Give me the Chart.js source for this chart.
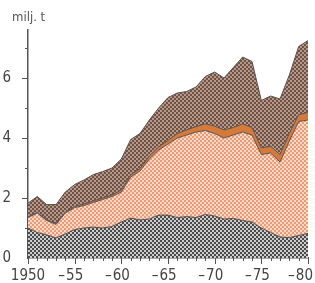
<!DOCTYPE html>
<html>
<head>
<meta charset="utf-8">
<script src="https://cdn.jsdelivr.net/npm/chart.js@4"></script>
<style>
  html, body { margin: 0; padding: 0; background: #fff; }
  #wrap { width: 315px; height: 283px; position: relative; }
</style>
</head>
<body>
<div id="wrap"><canvas id="chart" width="315" height="283"></canvas></div>
<script>
const years = [1950, 1951, 1952, 1953, 1954, 1955, 1956, 1957, 1958, 1959,
  1960, 1961, 1962, 1963, 1964, 1965, 1966, 1967, 1968, 1969,
  1970, 1971, 1972, 1973, 1974, 1975, 1976, 1977, 1978, 1979, 1980];

// layers, bottom to top (milj. t)
const greyLayer = [1.0, 0.85, 0.77, 0.67, 0.8, 0.95, 1.0, 1.03, 1.0, 1.05,
  1.2, 1.33, 1.27, 1.3, 1.43, 1.43, 1.35, 1.38, 1.35, 1.45,
  1.4, 1.3, 1.32, 1.25, 1.2, 1.0, 0.85, 0.7, 0.68, 0.75, 0.82];
const salmonLayer = [0.35, 0.65, 0.48, 0.45, 0.7, 0.73, 0.75, 0.82, 0.95, 1.0,
  1.0, 1.37, 1.63, 2.0, 2.17, 2.37, 2.65, 2.72, 2.85, 2.8,
  2.75, 2.7, 2.78, 2.95, 2.9, 2.45, 2.65, 2.5, 3.22, 3.8, 3.78];
const orangeLayer = [0.02, 0.02, 0.02, 0.03, 0.03, 0.04, 0.05, 0.05, 0.05, 0.05,
  0.07, 0.07, 0.08, 0.1, 0.1, 0.12, 0.15, 0.17, 0.18, 0.22,
  0.25, 0.27, 0.25, 0.27, 0.25, 0.22, 0.22, 0.25, 0.25, 0.23, 0.25];
const brownLayer = [0.46, 0.53, 0.51, 0.63, 0.67, 0.73, 0.8, 0.88, 0.88, 0.9,
  1.03, 1.18, 1.17, 1.2, 1.3, 1.43, 1.35, 1.28, 1.32, 1.58,
  1.8, 1.73, 2.0, 2.23, 2.2, 1.58, 1.68, 1.85, 1.95, 2.27, 2.4];

const yLabels = { 0: '0', 2: '2', 4: '4', 6: '6' };
const xLabels = { 1950: '1950', 1955: '55', 1960: '60', 1965: '65', 1970: '70', 1975: '75', 1980: '80' };
const FONT = '"DejaVu Sans Condensed", "Liberation Sans Narrow", "DejaVu Sans", sans-serif';

// checker tile, 2px cells
function dotPattern(bg, fg) {
  const c = document.createElement('canvas');
  c.width = 4; c.height = 4;
  const g = c.getContext('2d');
  g.fillStyle = bg;
  g.fillRect(0, 0, 4, 4);
  g.fillStyle = fg;
  g.fillRect(0, 0, 2, 2);
  g.fillRect(2, 2, 2, 2);
  return g.createPattern(c, 'repeat');
}

const ctx = document.getElementById('chart').getContext('2d');

function layer(data, fill, bg) {
  return {
    data: years.map((y, i) => ({ x: y, y: data[i] })),
    fill: fill,
    backgroundColor: bg,
    borderColor: '#5a5050',
    borderWidth: 1,
    pointRadius: 0,
    tension: 0
  };
}

// unit label, tick marks (long at labelled values) and year labels
const axisDecor = {
  id: 'axisDecor',
  afterDraw(chart) {
    const c = chart.ctx;
    const xs = chart.scales.x, ys = chart.scales.y;
    const bottom = ys.getPixelForValue(0), left = xs.getPixelForValue(1950);
    c.save();
    c.strokeStyle = '#555';
    c.lineWidth = 1;
    c.beginPath();
    years.forEach(y => {
      const px = Math.round(xs.getPixelForValue(y)) + 0.5;
      const len = y % 5 === 0 ? 6 : 3;
      c.moveTo(px, bottom);
      c.lineTo(px, bottom + len);
    });
    for (let v = 1; v <= 7; v++) {
      const py = Math.round(ys.getPixelForValue(v)) + 0.5;
      const len = yLabels[v] !== undefined ? 6 : 3;
      c.moveTo(left - len, py);
      c.lineTo(left, py);
    }
    c.stroke();

    c.fillStyle = '#444';
    c.font = '15px ' + FONT;
    c.textBaseline = 'alphabetic';
    Object.keys(xLabels).forEach(k => {
      const px = xs.getPixelForValue(+k);
      const txt = xLabels[k];
      const w = c.measureText(txt).width;
      let cx = Math.min(px, 313 - w / 2);
      c.textAlign = 'center';
      c.fillText(txt, cx, 280);
      if (+k !== 1950) {
        c.textAlign = 'right';
        c.fillText('\u2013', cx - w / 2 - 1, 280);
      }
    });

    c.font = '13px ' + FONT;
    c.fillStyle = '#555';
    c.textAlign = 'left';
    c.fillText('milj. t', 12, 21);
    c.restore();
  }
};

new Chart(ctx, {
  type: 'line',
  data: {
    datasets: [
      layer(greyLayer, 'origin', dotPattern('#cccccc', '#4a4a4a')),
      layer(salmonLayer, '-1', dotPattern('#fcd9c3', '#e99a7a')),
      layer(orangeLayer, '-1', '#d67a3a'),
      layer(brownLayer, '-1', dotPattern('#b69888', '#6e5246'))
    ]
  },
  options: {
    responsive: false,
    animation: false,
    layout: { padding: { left: 0, right: 7, top: 30, bottom: 0 } },
    plugins: { legend: { display: false }, tooltip: { enabled: false } },
    scales: {
      x: {
        type: 'linear',
        min: 1950,
        max: 1980,
        border: { color: '#555', width: 1.5 },
        grid: { display: false },
        ticks: { display: false, stepSize: 1 },
        afterFit(s) { s.height = 25; s.paddingRight = 0; s.paddingLeft = 0; }
      },
      y: {
        stacked: true,
        min: 0,
        max: 7.6,
        border: { color: '#555', width: 1.5 },
        grid: { display: false },
        ticks: {
          stepSize: 1,
          autoSkip: false,
          padding: 9,
          color: '#444',
          font: { family: FONT, size: 15 },
          callback: v => yLabels[v] !== undefined ? yLabels[v] : ''
        },
        afterFit(s) { s.width = 28; s.paddingTop = 0; s.paddingBottom = 0; }
      }
    }
  },
  plugins: [axisDecor]
});
</script>
</body>
</html>
